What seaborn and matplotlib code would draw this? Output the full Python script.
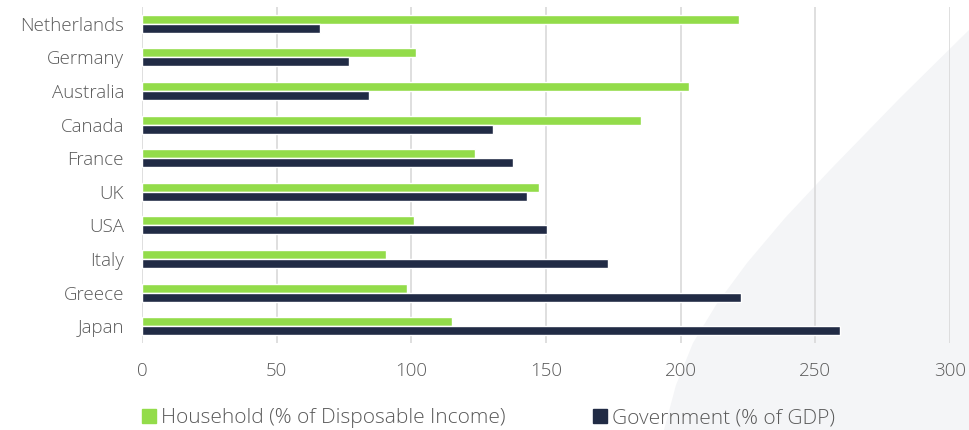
import pandas as pd
import numpy as np
import matplotlib
matplotlib.use("Agg")
import matplotlib.pyplot as plt
from matplotlib.patches import Polygon
import seaborn as sns

# data
countries = ["Netherlands", "Germany", "Australia", "Canada", "France",
             "UK", "USA", "Italy", "Greece", "Japan"]
household = [221.6, 101.8, 203.0, 185.4, 123.5, 147.5, 100.9, 90.6, 98.3, 115.2]
government = [66.0, 76.9, 84.2, 130.3, 137.6, 142.8, 150.3, 172.9, 222.3, 259.3]
series_names = ["Household (% of Disposable Income)", "Government (% of GDP)"]
x_ticks = [0, 50, 100, 150, 200, 250, 300]

df = pd.DataFrame({
    "country": countries * 2,
    "value": household + government,
    "series": [series_names[0]] * len(countries) + [series_names[1]] * len(countries),
})

sns.set_style("white")
plt.rcParams["font.family"] = ["Open Sans", "DejaVu Sans"]
plt.rcParams["font.weight"] = "light"

green = "#93dc4a"
navy = "#212b45"
text_col = "#5a5a5a"

fig = plt.figure(figsize=(9.69, 4.30), dpi=100)
fig.patch.set_facecolor("white")

# light grey background swoosh at lower right, in its own axes behind the chart
bg = fig.add_axes([0, 0, 1, 1], zorder=-1)
bg.set_xlim(0, 969)
bg.set_ylim(430, 0)
bg.axis("off")
bg.add_patch(Polygon([(969, 30), (900, 98), (830, 170), (785, 218), (747, 263),
                      (716, 305), (693, 343), (676, 385), (664, 430), (969, 430)],
                     closed=True, facecolor="#f4f5f7", edgecolor="none"))

ax = fig.add_axes([142 / 969, 1 - 343 / 430, (950 - 142) / 969, 336 / 430])
ax.patch.set_alpha(0)

sns.barplot(data=df, y="country", x="value", hue="series", orient="h",
            palette=[green, navy], width=0.54, ax=ax, legend=False,
            saturation=1)

ax.set_xlim(0, 300)
ax.set_xticks(x_ticks)
ax.set_xlabel("")
ax.set_ylabel("")
ax.grid(axis="x", color="#d9d9d9", linewidth=1.2)
ax.set_axisbelow(True)
for s in ax.spines.values():
    s.set_visible(False)
ax.tick_params(axis="x", length=0, pad=14, labelsize=13.5, labelcolor=text_col)
ax.tick_params(axis="y", length=0, pad=13, labelsize=13.5, labelcolor=text_col)

handles = [plt.Rectangle((0, 0), 1, 1, color=green),
           plt.Rectangle((0, 0), 1, 1, color=navy)]
leg = fig.legend(handles, series_names, loc="center left", bbox_to_anchor=(0.147, 0.027),
                 ncol=2, frameon=False, fontsize=15, handlelength=0.65, handleheight=0.65,
                 handletextpad=0.25, columnspacing=4.2, borderaxespad=0, borderpad=0)
for t in leg.get_texts():
    t.set_color(text_col)

fig.savefig("out.png", dpi=100)
